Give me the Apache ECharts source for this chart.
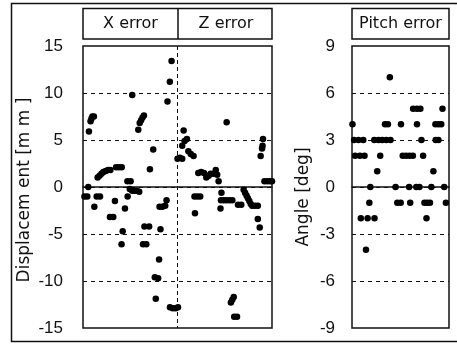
<!DOCTYPE html>
<html><head><meta charset="utf-8">
<script src="https://cdn.jsdelivr.net/npm/echarts@6/dist/echarts.min.js"></script>
<style>html,body{margin:0;padding:0;background:#fff}#c{width:457px;height:344px}</style>
</head><body><div id="c"></div>
<script>
// ---- data ----
const panelTitles = ['X error', 'Z error', 'Pitch error'];
const axisTitles = ['Displacem ent [m m ]', 'Angle [deg]'];
const dispTicks = [-15, -10, -5, 0, 5, 10, 15];
const angleTicks = [-9, -6, -3, 0, 3, 6, 9];

// X error: [sample position 0-100, displacement mm]
const xErrorPoints = [
  [1.5,-1.0],[4.5,-1.0],[5.6,0.0],[6.3,5.9],[8,7.0],[9,7.3],[10,7.5],[11.5,7.5],
  [12,-2.1],[14.5,-1.0],[18,-1.0],
  [15.5,1.0],[17.5,1.2],[19.5,1.4],[21.5,1.6],[24,1.7],[26.5,1.8],[29,1.8],
  [28.5,-3.2],[32,-3.2],[33.8,-1.5],[35,2.1],[38,2.1],[41,2.1],
  [42,-4.7],[40.8,-6.1],[44.4,-2.3],[47.2,-1.0],[47,0.6],[50.4,0.6],[52.1,9.8],
  [49.5,-0.2],[52,-0.4],[54.5,-0.4],[57,-0.4],[59.5,-0.5],
  [58.5,6.1],[60,6.8],[61.5,7.1],[63,7.4],[64.5,7.6],
  [63.5,-6.1],[67,-6.1],[65,-4.2],[70,-4.2],[70.8,1.9],[74.3,4.0],
  [77,-11.9],[76,-9.6],[79.5,-9.7],[80.5,-7.7],[82,-4.5],
  [81,-2.1],[84,-2.1],[87,-2.0],[88.4,-1.4],[89.4,9.1],[91.9,11.2],[93.7,13.4],
  [92,-12.8],[95,-12.9],[98,-12.9],[100.5,-12.8]
];
// Z error: [sample position 0-100, displacement mm]
const zErrorPoints = [
  [0,3.0],[2.5,3.1],[5,3.0],[6.5,6.0],[5,4.4],[7.5,4.9],[10,5.1],
  [11.5,3.8],[14,3.5],[17,3.3],
  [18,-1.0],[21,-1.0],[24,-1.0],[18.5,-2.8],
  [22,1.5],[25,1.6],[28,1.5],[30.5,1.0],[33,1.2],[35,1.4],[38,1.4],[40.5,1.8],[42,1.3],[43.5,0.6],
  [46.5,-0.6],[46,-1.4],[49,-1.4],[52,-1.4],[55,-1.4],[58,-1.4],[45.5,-2.3],
  [52,6.9],[64,-1.9],[67.5,-1.9],
  [70,-0.3],[71.5,-0.6],[73,-0.9],[74.5,-1.2],[76,-1.5],[77.5,-1.8],[79,-2.0],[82,-2.0],[85,-2.0],
  [85,-3.4],[87,-4.3],
  [56.5,-12.3],[58,-12.0],[59.5,-11.7],[60,-13.8],[63,-13.8],
  [88,3.3],[89.5,4.1],[90,4.4],[90.5,5.1],[92,0.6],[95,0.6],[98,0.6],[100,0.6]
];
// Pitch error: [sample position 0-100, angle deg]
const pitchErrorPoints = [
  [0.5,4],[34,4],[37,4],[50.5,4],[67,4],[86,4],[89,4],[92,4],
  [63,5],[67,5],[70.5,5],[93.3,5],[39,7],
  [2.1,3],[6.7,3],[11.6,3],[23,3],[27.4,3],[31.2,3],[35.4,3],[39.7,3],[71.6,3],[86.3,3],[89.1,3],
  [3.2,2],[8.1,2],[12.9,2],[29.1,2],[52.3,2],[55.8,2],[59.3,2],[62.8,2],[73.3,2],
  [26,1],[83.9,1],
  [18.9,0],[44.9,0],[58.9,0],[66.3,0],[69.5,0],[81.8,0],[95.1,0],
  [17.9,-1],[46.7,-1],[50.2,-1],[60,-1],[74.7,-1],[77.5,-1],[80.4,-1],[96.8,-1],
  [9.1,-2],[16.1,-2],[23.2,-2],[76.8,-2],
  [14.4,-4]
];

// ---- chart ----
const chart = echarts.init(document.getElementById('c'), null, {renderer: 'canvas'});
const INK = '#111';
const tickFont = {fontFamily: 'Liberation Sans', fontSize: 17, color: INK};
const dash = {color: INK, width: 1, type: [4, 4]};

function yAx(grid, ticks, margin) {
  return {
    gridIndex: grid, type: 'value', min: ticks[0], max: ticks[ticks.length - 1],
    interval: ticks[1] - ticks[0],
    axisLine: {show: false}, axisTick: {show: false},
    axisLabel: Object.assign({margin: margin}, tickFont),
    splitLine: {show: true, showMinLine: false, showMaxLine: false, lineStyle: dash}
  };
}
function xAx(grid, max, interval) {
  return {
    gridIndex: grid, type: 'value', min: 0, max: max, interval: interval,
    axisLine: {show: true, onZero: true, lineStyle: {color: INK, width: 1.5}},
    axisTick: {show: false}, axisLabel: {show: false},
    splitLine: {show: interval < max, showMinLine: false, showMaxLine: false,
                lineStyle: {color: INK, width: 1, type: [4, 3]}}
  };
}
const sym = {symbol: 'circle', symbolSize: 6.5, itemStyle: {color: '#000', opacity: 1}};

chart.setOption({
  animation: false,
  backgroundColor: '#fff',
  grid: [
    {left: 83, top: 46, width: 189, height: 282, show: true, borderColor: INK, borderWidth: 1.5},
    {left: 352, top: 46, width: 97, height: 282, show: true, borderColor: INK, borderWidth: 1.5}
  ],
  xAxis: [xAx(0, 200, 100), xAx(1, 100, 100)],
  yAxis: [yAx(0, dispTicks, 20), yAx(1, angleTicks, 17)],
  series: [
    Object.assign({type: 'scatter', name: panelTitles[0], xAxisIndex: 0, yAxisIndex: 0, data: xErrorPoints}, sym),
    Object.assign({type: 'scatter', name: panelTitles[1], xAxisIndex: 0, yAxisIndex: 0,
      data: zErrorPoints.map(p => [p[0] + 100, p[1]])}, sym),
    Object.assign({type: 'scatter', name: panelTitles[2], xAxisIndex: 1, yAxisIndex: 1, data: pitchErrorPoints}, sym)
  ],
  graphic: [
    {type: 'rect', shape: {x: 11.5, y: 3.5, width: 470, height: 338}, style: {fill: null, stroke: INK, lineWidth: 1.5}},
    {type: 'rect', shape: {x: 83, y: 8.5, width: 189, height: 30.5}, style: {fill: null, stroke: INK, lineWidth: 1.5}},
    {type: 'line', shape: {x1: 178, y1: 8.5, x2: 178, y2: 39}, style: {stroke: INK, lineWidth: 1.5}},
    {type: 'rect', shape: {x: 352, y: 8.5, width: 97, height: 30.5}, style: {fill: null, stroke: INK, lineWidth: 1.5}},
    {type: 'text', x: 130.5, y: 24, style: {text: panelTitles[0], fill: INK, font: '16px "DejaVu Sans"', textAlign: 'center', textVerticalAlign: 'middle'}},
    {type: 'text', x: 226, y: 24, style: {text: panelTitles[1], fill: INK, font: '16px "DejaVu Sans"', textAlign: 'center', textVerticalAlign: 'middle'}},
    {type: 'text', x: 400.5, y: 24, style: {text: panelTitles[2], fill: INK, font: '16px "DejaVu Sans"', textAlign: 'center', textVerticalAlign: 'middle'}},
    {type: 'text', x: 25, y: 190, rotation: Math.PI / 2, style: {text: axisTitles[0], fill: INK, font: '17px "DejaVu Sans"', textAlign: 'center', textVerticalAlign: 'middle'}},
    {type: 'text', x: 304, y: 197, rotation: Math.PI / 2, style: {text: axisTitles[1], fill: INK, font: '17px "DejaVu Sans"', textAlign: 'center', textVerticalAlign: 'middle'}}
  ]
});
</script>
</body></html>
